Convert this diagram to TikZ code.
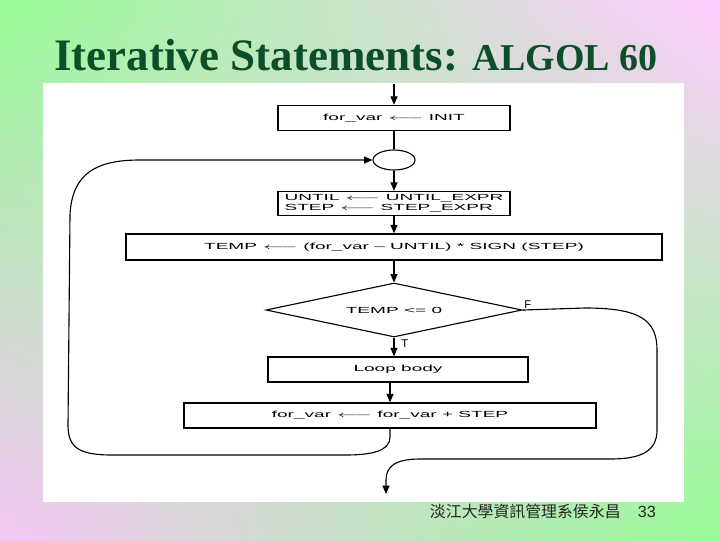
\documentclass[tikz,border=0pt]{standalone}
\usepackage{fontspec}
\usepackage{graphicx}
\setmainfont{Liberation Serif}
\newfontfamily\chartfont{Liberation Sans}
\newfontfamily\cjkfont{Noto Sans CJK TC}
\usetikzlibrary{positioning, arrows.meta, shapes.geometric, shadings}
\definecolor{titlegreen}{RGB}{12,78,42}
\definecolor{bggreen}{RGB}{150,252,150}
\definecolor{bgpink}{RGB}{255,204,255}
\newcommand{\wide}[1]{\scalebox{2.15}[1]{\chartfont\fontsize{6.3}{7.6}\selectfont #1}}
\newcommand{\assign}{~$\longleftarrow$~}
\tikzset
{
    >={Triangle[length=6pt,width=5pt]},
    box/.style={draw, line width=1pt, inner sep=0pt, minimum height=0.625cm}, % flowchart boxes
    link/.style={line width=0.8pt},
    tag/.style={inner sep=1pt, font=\chartfont\fontsize{8}{9}\selectfont},
}

\begin{document}
\begin{tikzpicture}[x=0.025cm, y=-0.025cm]
    \useasboundingbox (0,0) rectangle (720,540);
    % Background
    \shade[upper left=bggreen, upper right=bgpink, lower left=bgpink!92!gray, lower right=bggreen] (0,0) rectangle (720,540);
    \fill[white] (43,83) rectangle (684,502);

    % Title
    \node[anchor=base, text=titlegreen, font=\bfseries] (title) at (356,70) {\fontsize{32}{36}\selectfont Iterative Statements: \fontsize{27}{30}\selectfont ALGOL 60};

    % Nodes
    \coordinate (entry) at (394,84);
    \node[box, minimum width=5.8cm] (init) at (394,118) {\wide{for\_var\assign INIT}};
    \node[ellipse, draw, line width=0.8pt, inner sep=0pt, minimum width=1.05cm, minimum height=0.5cm] (join) at (394,160) {};
    \node[box, minimum width=5.8cm, minimum height=0.6cm] (bounds) at (394,203.5) {\wide{\begin{tabular}{@{}l@{}}UNTIL\assign UNTIL\_EXPR\\STEP\assign STEP\_EXPR\end{tabular}}};
    \node[box, minimum width=13.4cm, minimum height=0.65cm] (temp) at (394,247) {\wide{TEMP\assign (for\_var – UNTIL) * SIGN (STEP)}};
    \node[diamond, draw, line width=0.8pt, inner sep=0pt, aspect=4.7, minimum width=6.4cm, minimum height=1.35cm] (test) at (394,310) {\wide{TEMP <= 0}};
    \node[box, minimum width=6.5cm] (body) at (398,369.5) {\wide{Loop body}};
    \node[box, minimum width=10.3cm] (incr) at (390,415.5) {\wide{for\_var\assign for\_var + STEP}};
    \coordinate (exit) at (386,494);

    % Labels
    \node[tag, above right=0pt and 0pt of test.east] (ftag) {F};
    \node[tag, below right=0pt and 4pt of test.south] (ttag) {T};

    % Links
    \draw[link, ->] (entry) -- (init);
    \draw[link] (init) -- (join);
    \draw[link, ->] (join) -- (bounds);
    \draw[link, ->] (bounds) -- (temp);
    \draw[link, ->] (temp) -- (test);
    \draw[link, ->] (test.south) -- (test.south |- body.north);
    \draw[link, ->] (body.south -| incr.north) -- (incr.north);

    % Back to the loop test
    \draw[link, ->] (incr.south) -- (390,437) .. controls (390,451) and (372,455) .. (345,455) -- (112,455)
        .. controls (78,455) and (68,447) .. (68,425) -- (70,215) .. controls (72,172) and (98,160) .. (140,160) -- (join.west);

    % Exit
    \draw[link, ->] (test.east) -- (585,308) .. controls (640,308) and (657,320) .. (657,350) -- (657,430)
        .. controls (657,452) and (640,459) .. (610,459) -- (420,459) .. controls (396,459) and (386,466) .. (386,480) -- (exit);

    % Footer
    \node[anchor=base west, text=black!85, font=\cjkfont\fontsize{11.3}{13}\selectfont] (author) at (425,517) {淡江大學資訊管理系侯永昌};
    \node[anchor=base west, text=black!85, font=\chartfont\fontsize{11.5}{13}\selectfont] (page) at (633,517) {33};
\end{tikzpicture}
\end{document}
